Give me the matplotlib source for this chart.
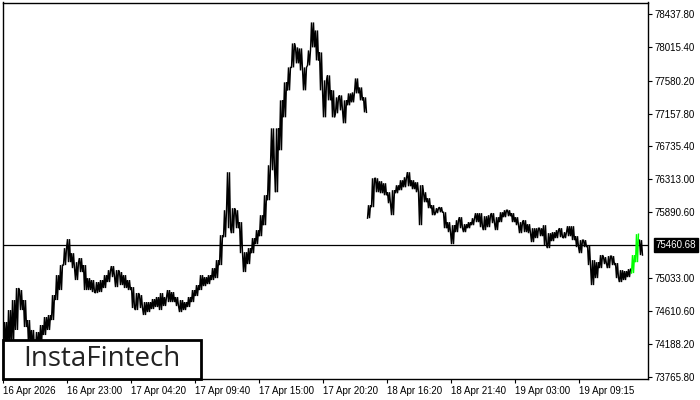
import matplotlib
matplotlib.use('Agg')
import matplotlib.pyplot as plt
from matplotlib.patches import Rectangle
import numpy as np

# Bitcoin M5 in groups of 4 bars (high / low of each group)
highs = [74471, 74625, 74754, 74909, 74883, 74754, 74496, 74368, 74342, 74432,
         74535, 74561, 74818, 75076, 75205, 75424, 75540, 75359, 75243, 75295,
         75205, 75037, 75012, 74986, 75012, 75076, 75140, 75192, 75140, 75115,
         75076, 75012, 74921, 74844, 74818, 74728, 74728, 74767, 74793, 74844,
         74793, 74883, 74857, 74793, 74754, 74728, 74793, 74883, 74947, 75076,
         75050, 75076, 75166, 75269, 75591, 75913, 76403, 75939, 75913, 75759,
         75372, 75424, 75553, 75656, 75849, 76106, 76493, 76969, 76969, 77330,
         77562, 77755, 78064, 78013, 78000, 77755, 77974, 78335, 78232, 77948,
         77588, 77652, 77459, 77369, 77394, 77330, 77420, 77433, 77613, 77497,
         77369, 75978, 76325, 76325, 76287, 76261, 76145, 76171, 76235, 76300,
         76338, 76403, 76300, 76274, 76235, 76145, 76068, 75978, 75939, 75952,
         75887, 75759, 75720, 75784, 75823, 75733, 75759, 75810, 75875, 75875,
         75836, 75849, 75875, 75823, 75887, 75913, 75913, 75875, 75823, 75759,
         75784, 75733, 75681, 75681, 75681, 75720, 75617, 75630, 75656, 75681,
         75630, 75707, 75707, 75578, 75527, 75527, 75462, 75269, 75243, 75334,
         75308, 75321, 75321, 75231, 75140, 75128, 75153, 75334, 75604, 75527]
lows = [74174, 74110, 74174, 74368, 74625, 74406, 74174, 74110, 74110, 74174,
        74303, 74368, 74496, 74754, 74883, 75205, 75243, 75166, 75012, 75115,
        74883, 74883, 74857, 74844, 74857, 74909, 74986, 75050, 74921, 74947,
        74909, 74883, 74651, 74625, 74651, 74561, 74599, 74638, 74664, 74625,
        74677, 74728, 74728, 74677, 74599, 74625, 74664, 74728, 74806, 74883,
        74934, 74960, 75012, 75037, 75205, 75565, 75681, 75617, 75681, 75359,
        75115, 75218, 75359, 75475, 75578, 75720, 76042, 76428, 76145, 76686,
        77111, 77459, 77755, 77807, 77716, 77459, 77781, 78013, 77845, 77459,
        77111, 77330, 77111, 77163, 77201, 77034, 77266, 77304, 77420, 77330,
        77175, 75810, 75952, 76145, 76132, 76106, 76003, 75849, 76132, 76171,
        76209, 76222, 76184, 76145, 75720, 76016, 75939, 75849, 75875, 75887,
        75681, 75630, 75475, 75630, 75681, 75630, 75681, 75720, 75759, 75694,
        75656, 75694, 75746, 75656, 75759, 75823, 75836, 75759, 75720, 75617,
        75630, 75617, 75501, 75553, 75578, 75462, 75424, 75514, 75553, 75565,
        75553, 75578, 75527, 75437, 75359, 75437, 75205, 74947, 75037, 75166,
        75218, 75166, 75205, 75037, 74986, 75012, 75050, 75102, 75243, 75334]
pattern_groups = [157, 158]   # bars highlighted in green
session_break = 91            # first group after the price gap

bars_per_group = 4
last_price = 75460.68
header = "#Bitcoin,M5  75409.68 75460.68 75409.68 75460.68"

time_labels = ["16 Apr 2026", "16 Apr 23:00", "17 Apr 04:20", "17 Apr 09:40",
               "17 Apr 15:00", "17 Apr 20:20", "18 Apr 16:20", "18 Apr 21:40",
               "19 Apr 03:00", "19 Apr 09:15"]
label_step = 64  # bars between time labels
price_ticks = [78437.80, 78015.40, 77580.20, 77157.80, 76735.40, 76313.00,
               75890.60, 75033.00, 74610.60, 74188.20, 73765.80]

plt.rcParams['font.family'] = ['Liberation Sans', 'DejaVu Sans']

fig = plt.figure(figsize=(7, 4), dpi=100)
ax = fig.add_axes([3/700, 1 - 379/400, 645/700, 376.5/400])

highs = np.array(highs, dtype=float)
lows = np.array(lows, dtype=float)
n = len(highs)
mids = (highs + lows) / 2


def zigzag(groups):
    # dense bars drawn as a zigzag between high and low of each group
    xs, ys = [], []
    prev = None
    for k in groups:
        x0 = k * bars_per_group
        rising = k + 1 < n and mids[k + 1] >= mids[k]
        a, b = (lows[k], highs[k]) if rising else (highs[k], lows[k])
        if k == session_break or (prev is not None and k != prev + 1):
            xs.append(np.nan); ys.append(np.nan)
        xs += [x0 + 0.5, x0 + 1.5, x0 + 2.5, x0 + 3.5]
        ys += [a, b, a, b]
        prev = k
    return xs, ys


black_groups = [k for k in range(n) if k not in pattern_groups]
bx, by = zigzag(black_groups)
ax.plot(bx, by, color='black', linewidth=1.0, solid_joinstyle='miter')
gx, gy = zigzag(pattern_groups)
ax.plot(gx, gy, color='#00ff00', linewidth=1.0, solid_joinstyle='miter', zorder=3)

ax.axhline(last_price, color='black', linewidth=0.9)

ax.set_xlim(0, 645)
ax.set_ylim(73736, 78592)

ax.yaxis.tick_right()
ax.set_yticks(price_ticks)
ax.set_yticklabels([f"{v:.2f}" for v in price_ticks], fontsize=7)
ax.tick_params(axis='y', length=3, width=0.8, pad=2)

ax.set_xticks([i * label_step for i in range(len(time_labels))])
ax.set_xticklabels(time_labels, fontsize=7, ha='left')
ax.tick_params(axis='x', length=3, width=0.8, pad=2)

for s in ax.spines.values():
    s.set_linewidth(1)

ax.text(15, 0.99, header, transform=ax.get_yaxis_transform(),
        fontsize=7, va='top', ha='left')

# last price marker on the price scale
ax.text(1.012, last_price, f"{last_price:.2f}", transform=ax.get_yaxis_transform(),
        fontsize=7, color='white', va='center', ha='left',
        bbox=dict(boxstyle='square,pad=0.2', fc='black', ec='black'))

# logo box
fig.patches.append(Rectangle((3/700, 1 - 379/400), 198/700, 39/400,
                             transform=fig.transFigure, fc='white', ec='black',
                             lw=2, zorder=5))
fig.text(102/700, 1 - 359/400, "InstaFintech", fontsize=20, color='#222222',
         ha='center', va='center', family='Open Sans', zorder=6)

fig.savefig('out.png', dpi=100)
